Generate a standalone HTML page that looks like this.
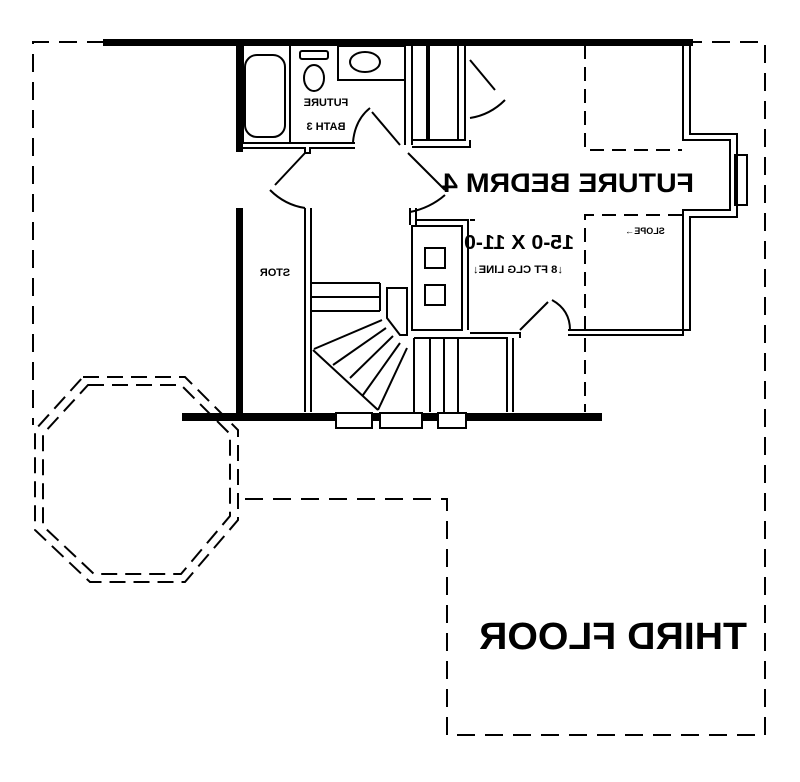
<!DOCTYPE html>
<html><head><meta charset="utf-8"><style>html,body{margin:0;padding:0;background:#fff}svg{display:block}</style></head>
<body>
<svg width="800" height="782" viewBox="0 0 800 782" xmlns="http://www.w3.org/2000/svg" font-family="Liberation Sans, sans-serif" font-weight="bold">
<g fill="none" stroke="#000" stroke-width="2">
<path d="M105 42 H33 V425" stroke-dasharray="18 10"/>
<path d="M245 499 H447 V735 H765 V42 H690" stroke-dasharray="18 10"/>
<path d="M83 377 H185 L238 430 V520 L185 582 H90 L35 530 V430 Z" stroke-dasharray="16 8"/>
<path d="M88 385 H181 L230 434 V516 L181 574 H94 L43 526 V434 Z" stroke-dasharray="16 8"/>
<path d="M585 45 V150 H682" stroke-dasharray="14 8"/>
<path d="M682 215 H585 V412" stroke-dasharray="14 8"/>
</g>
<rect x="103" y="39" width="590" height="7" fill="#000"/>
<rect x="236" y="42" width="7" height="110" fill="#000"/>
<rect x="236" y="208" width="7" height="210" fill="#000"/>
<rect x="182" y="413" width="420" height="8" fill="#000"/>
<rect x="426" y="45" width="4" height="96" fill="#000"/>
<g fill="none" stroke="#000" stroke-width="2">
<rect x="245" y="55" width="40" height="82" rx="12"/>
<rect x="243" y="45" width="47" height="98"/>
<ellipse cx="314" cy="78" rx="10" ry="13"/>
<rect x="300" y="51" width="28" height="8" rx="2"/>
<rect x="338" y="46" width="67" height="34"/>
<ellipse cx="365" cy="62" rx="15" ry="10"/>
<path d="M240 143 H355 M240 148 H305 V153 H310 V148 H355"/>
<path d="M405 45 V145 M412 45 V145 M412 140 H465 V45 M412 147 H470 V140 M458 45 V140"/>
<path d="M370 108 Q355 120 353 142 M372 112 L400 145"/>
<path d="M305 153 L275 185 M270 190 Q285 205 305 208"/>
<path d="M408 153 L445 190 M445 195 Q430 208 410 212"/>
<path d="M470 60 L495 90 M505 100 Q490 115 470 118"/>
<path d="M305 208 V412 M311 208 V412 M410 208 V225 M416 208 V225"/>
<path d="M416 220 H468 V330 M470 220 H475"/>
<path d="M683 45 V140 H730 V210 H683 V335 H568 M690 45 V134 H737 V217 H690 V330 H568"/>
<rect x="735" y="155" width="12" height="50"/>
<path d="M520 330 L548 302 M552 300 Q570 310 570 330 M470 333 H520 V338"/>
<rect x="412" y="226" width="50" height="104"/>
<rect x="425" y="248" width="20" height="20"/>
<rect x="425" y="285" width="20" height="20"/>
<path d="M312 283 H380 M312 297 H380 M312 311 H380 M380 283 V311"/>
<path d="M387 288 H407 V335 H400 L387 318 Z"/>
<path d="M382 320 L314 349 M386 328 L333 365 M393 336 L350 378 M400 343 L363 395 M407 348 L378 410 M313 350 L378 410"/>
<path d="M414 338 H507 V412 M414 338 V412 M430 338 V412 M444 338 V412 M458 338 V412 M513 338 V412"/>
<rect x="336" y="413" width="36" height="15" fill="#fff"/>
<rect x="380" y="413" width="42" height="15" fill="#fff"/>
<rect x="438" y="413" width="28" height="15" fill="#fff"/>
</g>
<g fill="#000" text-anchor="middle">
<text transform="translate(568,192) scale(-1,1)" font-size="27" textLength="252" lengthAdjust="spacingAndGlyphs">FUTURE BEDRM 4</text>
<text transform="translate(519,249) scale(-1,1)" font-size="20" textLength="110" lengthAdjust="spacingAndGlyphs">15-0 X 11-0</text>
<text transform="translate(518,273) scale(-1,1)" font-size="11" textLength="90" lengthAdjust="spacingAndGlyphs">↓8 FT CLG LINE↓</text>
<text transform="translate(645,234) scale(-1,1)" font-size="9">SLOPE→</text>
<text transform="translate(275,276) scale(-1,1)" font-size="11">STOR</text>
<text transform="translate(326,106) scale(-1,1)" font-size="11">FUTURE</text>
<text transform="translate(326,130) scale(-1,1)" font-size="11">BATH 3</text>
<text transform="translate(613,649) scale(-1,1)" font-size="38" textLength="268" lengthAdjust="spacingAndGlyphs">THIRD FLOOR</text>
</g>
</svg>
</body></html>
